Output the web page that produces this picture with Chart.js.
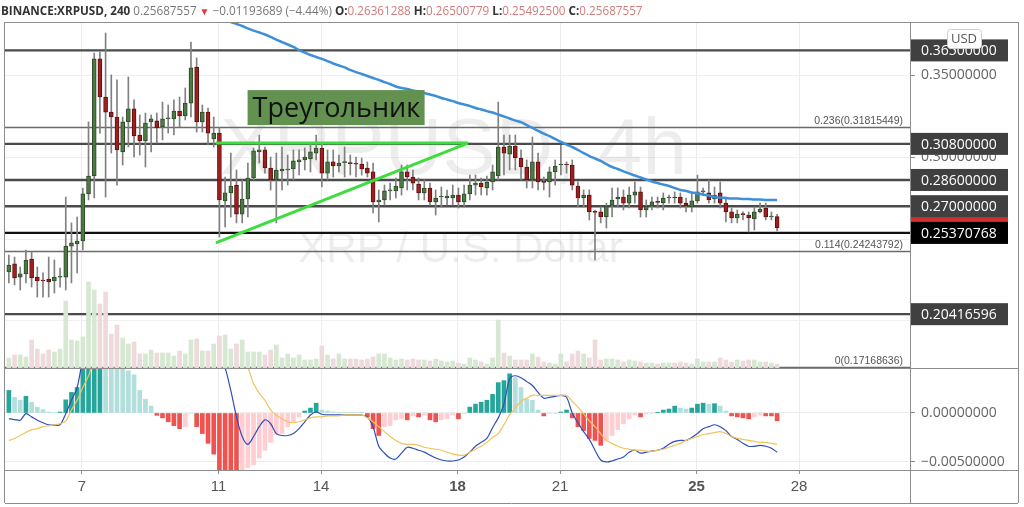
<!DOCTYPE html>
<html lang="ru">
<head>
<meta charset="UTF-8">
<title>XRPUSD 4h</title>
<script src="https://cdn.jsdelivr.net/npm/chart.js@4"></script>
<style>
  html, body { margin: 0; padding: 0; background: #fff; }
  #wrap { position: relative; width: 1024px; height: 507px; }
  #legend { position: absolute; left: 1px; top: 2px; font: 11.7px 'Open Sans', sans-serif; color: #777; white-space: nowrap; }
  #legend b { color: #333; font-weight: 700; }
  #legend .v { color: #d27b7b; }
  #legend .dn { color: #e53935; font-size: 10px; }
</style>
</head>
<body>
<div id="wrap">
  <canvas id="chart" width="1024" height="507"></canvas>
  <div id="legend"><b>BINANCE:XRPUSD, 240</b> 0.25687557 <span class="dn">▼</span> −0.01193689 (−4.44%) <b>O:</b><span class="v">0.26361288</span> <b>H:</b><span class="v">0.26500779</span> <b>L:</b><span class="v">0.25492500</span> <b>C:</b><span class="v">0.25687557</span></div>
</div>

<script>
// 4h candles
const open = [
  .2299,.2348,.2268,.2287,.2378,.2268,.2250,.2256,.2244,.2268,
  .2268,.2457,.2470,.2488,.2775,.2884,.3598,.3366,.3274,.3244,
  .3031,.3214,.3293,.3134,.3098,.3214,.3220,.3183,.3232,.3232,
  .3280,.3250,.3329,.3549,.3214,.3274,.3110,.3146,.2732,.2781,
  .2829,.2652,.2744,.2872,.3031,.3043,.2933,.2860,.2915,.2921,
  .2927,.2970,.2982,.2988,.3024,.3055,.2902,.2970,.2945,.2966,
  .2963,.2963,.2957,.2933,.2909,.2726,.2738,.2793,.2793,.2811,
  .2909,.2878,.2835,.2781,.2811,.2726,.2756,.2750,.2750,.2768,
  .2726,.2775,.2829,.2841,.2811,.2848,.2884,.3061,.3018,.3067,
  .2994,.2939,.2860,.2970,.2848,.2848,.2909,.2951,.2954,.2951,
  .2823,.2750,.2768,.2665,.2665,.2634,.2707,.2744,.2756,.2719,
  .2768,.2787,.2677,.2701,.2726,.2720,.2750,.2753,.2756,.2719,
  .2695,.2732,.2787,.2781,.2744,.2781,.2719,.2665,.2628,.2652,
  .2646,.2622,.2665,.2689,.2634,.2636
];
const high = [
  .2402,.2390,.2329,.2433,.2421,.2329,.2293,.2390,.2372,.2323,
  .2756,.2598,.2634,.2811,.3214,.3634,.3640,.3756,.3500,.3470,
  .3244,.3488,.3348,.3256,.3268,.3256,.3268,.3335,.3317,.3348,
  .3366,.3421,.3701,.3604,.3317,.3299,.3244,.3177,.2878,.3024,
  .2921,.2860,.2963,.3055,.3134,.3061,.3000,.3024,.3061,.3012,
  .3043,.3043,.3055,.3085,.3134,.3085,.3043,.3043,.3012,.3061,
  .3012,.3000,.2994,.2970,.2963,.2799,.2829,.2841,.2872,.2951,
  .2951,.2921,.2872,.2860,.2841,.2799,.2817,.2799,.2829,.2811,
  .2829,.2890,.2890,.2872,.2884,.2951,.3335,.3134,.3134,.3134,
  .3043,.2982,.3122,.3024,.2878,.2939,.2982,.3073,.2970,.2982,
  .2848,.2799,.2799,.2677,.2695,.2719,.2811,.2811,.2799,.2817,
  .2848,.2817,.2738,.2756,.2756,.2781,.2768,.2787,.2781,.2750,
  .2781,.2890,.2811,.2860,.2817,.2848,.2756,.2689,.2677,.2665,
  .2665,.2695,.2719,.2719,.2665,.2650
];
const low = [
  .2232,.2220,.2189,.2232,.2207,.2146,.2146,.2146,.2171,.2207,
  .2189,.2232,.2293,.2433,.2738,.2750,.3146,.2756,.3024,.2829,
  .2951,.3061,.3000,.3012,.2939,.3031,.3085,.3104,.3146,.3134,
  .3183,.3226,.3244,.3152,.3152,.3073,.3061,.2512,.2573,.2634,
  .2598,.2598,.2634,.2860,.2963,.2902,.2799,.2598,.2799,.2829,
  .2860,.2890,.2921,.2909,.2982,.2817,.2860,.2878,.2909,.2878,
  .2890,.2878,.2890,.2878,.2659,.2604,.2707,.2738,.2750,.2768,
  .2799,.2799,.2738,.2738,.2707,.2646,.2695,.2707,.2707,.2689,
  .2695,.2738,.2768,.2768,.2768,.2799,.2860,.2890,.2921,.2921,
  .2860,.2811,.2811,.2799,.2799,.2756,.2829,.2890,.2902,.2799,
  .2695,.2695,.2616,.2372,.2598,.2567,.2634,.2695,.2677,.2689,
  .2719,.2634,.2634,.2677,.2689,.2677,.2719,.2719,.2689,.2665,
  .2665,.2719,.2768,.2719,.2719,.2689,.2604,.2598,.2598,.2616,
  .2543,.2555,.2659,.2616,.2616,.2549
];
const close = [
  .2341,.2262,.2287,.2372,.2262,.2244,.2244,.2238,.2268,.2274,
  .2457,.2476,.2488,.2775,.2884,.3598,.3366,.3274,.3244,.3043,
  .3214,.3293,.3128,.3098,.3207,.3232,.3177,.3232,.3238,.3280,
  .3250,.3329,.3543,.3214,.3274,.3146,.3146,.2738,.2781,.2823,
  .2652,.2744,.2872,.3037,.3043,.2933,.2860,.2921,.2927,.2927,
  .2976,.2982,.3000,.3031,.3055,.2902,.2970,.2945,.2963,.2970,
  .2960,.2957,.2927,.2902,.2726,.2738,.2793,.2796,.2823,.2909,
  .2878,.2841,.2781,.2811,.2726,.2750,.2760,.2762,.2768,.2726,
  .2775,.2829,.2841,.2817,.2847,.2909,.3061,.3024,.3067,.2994,
  .2939,.2860,.2970,.2848,.2845,.2909,.2945,.2954,.2951,.2829,
  .2750,.2768,.2665,.2662,.2634,.2701,.2738,.2756,.2719,.2768,
  .2787,.2677,.2701,.2726,.2723,.2750,.2753,.2750,.2719,.2701,
  .2732,.2787,.2790,.2738,.2768,.2719,.2665,.2628,.2652,.2649,
  .2628,.2665,.2683,.2634,.2636,.2569
];
// relative volume
const volume = [
  10,13,13,11,28,19,14,18,16,19,
  67,28,27,31,86,78,64,76,34,43,
  30,24,26,14,14,18,15,15,15,12,
  17,14,28,29,17,17,24,32,33,19,
  24,28,16,16,16,13,18,23,10,14,
  10,13,8,8,9,22,13,9,14,9,
  9,9,8,9,11,14,14,10,8,9,
  8,9,8,8,7,9,7,6,7,5,
  4,10,8,6,4,10,48,15,12,8,
  8,8,14,11,6,5,4,14,6,14,
  17,14,10,28,8,9,9,8,6,8,
  7,6,5,5,4,5,5,5,6,5,
  4,9,6,6,6,10,8,6,8,7,
  8,8,6,6,5,4
];
// moving average (blue), starts above the visible range
const movingAvg = [
  null,null,null,null,null,null,null,null,null,null,
  null,null,null,null,null,null,null,null,null,null,
  null,null,null,null,null,null,null,null,null,null,
  null,null,null,null,null,null,.3872,.3854,.3838,.3823,
  .3811,.3799,.3784,.3771,.3759,.3747,.3732,.3716,.3701,.3686,
  .3671,.3652,.3637,.3622,.3610,.3598,.3585,.3570,.3558,.3546,
  .3531,.3518,.3506,.3494,.3482,.3470,.3457,.3445,.3430,.3421,
  .3415,.3406,.3400,.3390,.3381,.3372,.3360,.3351,.3341,.3329,
  .3320,.3311,.3299,.3290,.3280,.3271,.3259,.3247,.3235,.3222,
  .3213,.3195,.3177,.3159,.3143,.3128,.3110,.3092,.3076,.3061,
  .3043,.3024,.3006,.2991,.2976,.2957,.2939,.2927,.2912,.2900,
  .2887,.2875,.2863,.2851,.2841,.2832,.2823,.2811,.2799,.2793,
  .2784,.2778,.2771,.2765,.2756,.2753,.2750,.2747,.2747,.2744,
  .2744,.2741,.2741,.2738,.2738,.2738
];
// MACD pane
const macdHist = [
  .0023,.0016,.0013,.0017,.0011,.0006,.00034,.0001,.00005,.0001,
  .00134,.0021,.0026,.0052,.0058,.0066,.0070,.0065,.0058,.0052,
  .0048,.0043,.0039,.0023,.0014,.0007,-.00024,-.0005,-.0009,-.0013,
  -.0016,-.0014,-.00005,-.0014,-.0021,-.0031,-.0042,-.0062,-.0072,-.0080,
  -.0085,-.0075,-.0056,-.0053,-.0046,-.0038,-.0030,-.0022,-.0021,-.0014,
  -.0009,-.0004,.0002,.0005,.0010,.0003,.0002,.0001,.00007,.00005,
  .00004,.00003,.00002,-.0004,-.0016,-.0023,-.0014,-.0013,-.0007,-.0006,
  -.0007,-.0003,-.0004,-.0002,-.0007,-.0009,-.0007,-.0006,-.0002,-.0006,
  -.00003,.0006,.0009,.0011,.0013,.0019,.0031,.0033,.0040,.0036,
  .0026,.0014,.0013,.0003,-.0003,-.00005,-.00003,.0001,.0003,-.0005,
  -.0014,-.0018,-.0026,-.0028,-.0033,-.0028,-.0023,-.0017,-.0011,-.0006,
  -.0002,-.0004,-.0001,-.00003,.00002,.0003,.0004,.0007,.0005,.0004,
  .0005,.0009,.0010,.0009,.00095,.0007,.0002,-.0003,-.0004,-.0005,
  -.0006,-.0004,-.0002,-.0003,-.0003,-.0008
];
const macdLine = [
  -.00057,-.00067,-.00074,-.00007,-.0004,-.00074,-.0010,-.0012,-.00124,-.0012,
  -.00007,.0013,.0026,.0056,.0080,.0125,.0150,.0160,.0158,.0152,
  .0150,.0150,.0146,.0140,.0137,.0134,.0125,.0118,.0110,.0102,
  .0096,.0094,.0104,.0090,.0085,.0075,.0062,.0058,.0046,.0023,
  -.0004,-.0024,-.0032,-.0024,-.0014,-.0007,-.0011,-.0021,-.0023,-.0023,
  -.0021,-.0016,-.0009,-.0002,.0001,-.00013,-.0002,-.0002,-.0002,-.0002,
  -.0002,-.0002,-.0002,-.0004,-.0014,-.0034,-.0041,-.0046,-.0047,-.0041,
  -.0035,-.0036,-.0038,-.0040,-.0043,-.0046,-.0048,-.0049,-.0049,-.0048,
  -.0045,-.0040,-.0034,-.0030,-.0026,-.0015,-.0005,.0009,.0035,.0038,
  .0036,.0032,.0028,.0021,.0015,.0016,.0017,.0018,.0016,.0000,
  -.0010,-.0019,-.0027,-.0038,-.0048,-.0050,-.0049,-.0047,-.0045,-.0040,
  -.0038,-.0041,-.0040,-.0039,-.0038,-.0036,-.0032,-.0029,-.0028,-.0028,
  -.0025,-.0021,-.0016,-.0014,-.0012,-.0014,-.0018,-.0024,-.0027,-.0031,
  -.0034,-.0034,-.0033,-.0034,-.0036,-.0040
];
const signalLine = [
  -.0028,-.0026,-.0023,-.0020,-.0017,-.0016,-.0014,-.0013,-.0012,-.0011,
  -.0008,.0003,.0013,.0026,.0038,.0055,.0075,.0092,.0106,.0116,
  .0122,.0127,.0130,.0131,.0130,.0129,.0127,.0124,.0120,.0116,
  .0112,.0108,.0104,.0100,.0095,.0090,.0084,.0078,.0072,.0066,
  .0058,.0052,.0046,.0030,.0020,.0013,.0003,-.0002,-.0006,-.0009,
  -.0010,-.0009,-.0007,-.0005,-.0004,-.0004,-.0003,-.0003,-.0003,-.0002,
  -.0002,-.0002,-.0002,-.0005,-.0009,-.0014,-.0019,-.0024,-.0028,-.0031,
  -.0032,-.0032,-.0033,-.0035,-.0036,-.0037,-.0038,-.0040,-.0042,-.0043,
  -.0043,-.0040,-.0037,-.0034,-.0030,-.0025,-.0021,-.0012,-.0002,.0005,
  .0012,.0015,.0018,.0018,.0018,.0018,.0018,.0018,.0018,.0012,
  .0006,-.0001,-.0008,-.0014,-.0021,-.0028,-.0031,-.0034,-.0036,-.0037,
  -.0038,-.0038,-.0039,-.0039,-.0038,-.0037,-.0035,-.0033,-.0031,-.0028,
  -.0026,-.0024,-.0022,-.0021,-.0020,-.0019,-.0021,-.0024,-.0026,-.0027,
  -.0028,-.0029,-.0030,-.0030,-.0031,-.0032
];

const dayTicks = [7, 11, 14, 18, 21, 25, 28];
const boldDays = [18, 25];
const priceLevels = [0.365, 0.308, 0.286, 0.27, 0.25370768, 0.20416596];
const fibLevels = [
  { ratio: '0.236', price: 0.31815449 },
  { ratio: '0.114', price: 0.24243792 },
  { ratio: '0', price: 0.17168636 }
];
const triangleTop = [{ x: 10.92, y: 0.3085 }, { x: 18.30, y: 0.3085 }];
const triangleBottom = [{ x: 10.92, y: 0.2476 }, { x: 18.30, y: 0.3085 }];
const triangleLabel = { text: 'Треугольник', x: 11.85, y: 0.3408 };

const firstBarDay = 4.858;   // day of month of the first 4h bar
const barDays = 4 / 24;
const barX = open.map((_, i) => firstBarDay + i * barDays);
const isUp = open.map((o, i) => close[i] >= o);
const lastPrice = close[close.length - 1];

const GREEN = '#4d7a44', GREEN_EDGE = '#2c4a27';
const RED = '#a21e1e', RED_EDGE = '#5c1010';

const histColors = macdHist.map((h, i) => {
  const prev = i > 0 ? macdHist[i - 1] : h;
  if (h >= 0) return h >= prev ? '#26a69a' : '#b2dfdb';
  return h <= prev ? '#ef5350' : '#ffcdd2';
});

function fmt(v) {
  if (Math.abs(v) < 1e-12) v = 0;
  return v < 0 ? '−' + Math.abs(v).toFixed(8) : v.toFixed(8);
}

// keep each dataset inside its own pane
const paneClip = {
  id: 'paneClip',
  beforeDatasetDraw(chart, args) {
    const ds = chart.data.datasets[args.index];
    const s = chart.scales[ds.yAxisID === 'ym' ? 'ym' : 'y'];
    const a = chart.chartArea;
    chart.ctx.save();
    chart.ctx.beginPath();
    chart.ctx.rect(a.left, s.top, a.right - a.left, s.bottom - s.top);
    chart.ctx.clip();
  },
  afterDatasetDraw(chart) {
    chart.ctx.restore();
  }
};

const decor = {
  id: 'decor',
  beforeDatasetsDraw(chart) {
    const { ctx, chartArea: a, scales } = chart;
    const y = scales.y;
    ctx.save();
    // watermark
    const cx = (a.left + a.right) / 2;
    const cy = (y.top + y.bottom) / 2;
    ctx.fillStyle = 'rgba(0,0,0,0.07)';
    ctx.textAlign = 'center';
    ctx.textBaseline = 'alphabetic';
    ctx.font = '80px "Liberation Sans", Arial, sans-serif';
    ctx.fillText('XRPUSD, 4h', cx - 4, cy - 21);
    ctx.font = '42px "Liberation Sans", Arial, sans-serif';
    ctx.fillText('XRP / U.S. Dollar', cx + 3, cy + 67);

    // fib lines
    fibLevels.forEach(f => {
      const py = Math.round(y.getPixelForValue(f.price)) + 0.5;
      ctx.strokeStyle = '#6a6a6a';
      ctx.lineWidth = 1.5;
      ctx.beginPath();
      ctx.moveTo(a.left, py);
      ctx.lineTo(a.right, py);
      ctx.stroke();
    });
    // horizontal levels
    priceLevels.forEach((p, k) => {
      const py = y.getPixelForValue(p);
      ctx.strokeStyle = k === 4 ? '#111' : '#4a4a4a';
      ctx.lineWidth = 2.4;
      ctx.beginPath();
      ctx.moveTo(a.left, py);
      ctx.lineTo(a.right + 5, py);
      ctx.stroke();
    });
    ctx.restore();
  },
  afterDatasetsDraw(chart) {
    const { ctx, scales } = chart;
    const bx = scales.x.getPixelForValue(triangleLabel.x);
    const by = scales.y.getPixelForValue(triangleLabel.y);
    ctx.save();
    ctx.fillStyle = '#629150';
    ctx.fillRect(bx, by, 177, 35);
    ctx.fillStyle = '#111';
    ctx.font = '27px "Open Sans", sans-serif';
    ctx.textBaseline = 'alphabetic';
    ctx.fillText(triangleLabel.text, bx + 5, by + 27);
    ctx.restore();
  },
  afterDraw(chart) {
    const { ctx, chartArea: a, scales } = chart;
    const y = scales.y, ym = scales.ym;
    const H = chart.height;
    const R = y.right;
    ctx.save();

    // fib labels
    ctx.fillStyle = '#555';
    ctx.font = '10.5px "Liberation Sans", Arial, sans-serif';
    ctx.textAlign = 'right';
    ctx.textBaseline = 'alphabetic';
    fibLevels.forEach(f => {
      const py = y.getPixelForValue(f.price);
      ctx.fillText(f.ratio + '(' + f.price.toFixed(8) + ')', a.right - 7, py - 3);
    });

    // frame
    ctx.strokeStyle = '#8c8c8c';
    ctx.lineWidth = 1;
    ctx.beginPath();
    const hl = (yy) => { ctx.moveTo(a.left, Math.round(yy) + 0.5); ctx.lineTo(R, Math.round(yy) + 0.5); };
    hl(a.top); hl(ym.top); hl(a.bottom); hl(H - 4);
    const vl = (xx) => { ctx.moveTo(Math.round(xx) + 0.5, a.top); ctx.lineTo(Math.round(xx) + 0.5, H - 4); };
    vl(a.left - 1); vl(a.right); vl(R);
    ctx.stroke();

    // price labels on the axis
    const box = (p, bg) => {
      const py = y.getPixelForValue(p);
      ctx.fillStyle = bg;
      ctx.fillRect(a.right + 1, py - 11, 97, 22);
      ctx.fillStyle = '#fff';
      ctx.font = '14px "Open Sans", sans-serif';
      ctx.textAlign = 'left';
      ctx.textBaseline = 'middle';
      ctx.fillText(p.toFixed(8), a.right + 11, py + 1);
    };
    box(lastPrice, '#d32f2f');
    priceLevels.forEach((p, k) => box(p, k === 4 ? '#000' : '#404040'));

    // currency badge
    const ux = (a.right + R) / 2 - 17, uy = a.top + 7;
    ctx.fillStyle = '#fff';
    ctx.strokeStyle = '#d0d0d0';
    ctx.beginPath();
    ctx.roundRect(ux + 0.5, uy + 0.5, 34, 19, 3);
    ctx.fill();
    ctx.stroke();
    ctx.fillStyle = '#555';
    ctx.font = '13px "Open Sans", sans-serif';
    ctx.textAlign = 'center';
    ctx.textBaseline = 'middle';
    ctx.fillText('USD', ux + 17, uy + 10);
    ctx.restore();
  }
};

const pt = (arr) => arr.map((v, i) => ({ x: barX[i], y: v }));

new Chart(document.getElementById('chart'), {
  type: 'bar',
  data: {
    datasets: [
      {
        label: 'Volume', yAxisID: 'yv', order: 20,
        data: pt(volume), barThickness: 4, grouped: false,
        backgroundColor: isUp.map(u => u ? '#d6e8d2' : '#efdadb')
      },
      {
        label: 'Wicks', yAxisID: 'y', order: 8,
        data: barX.map((x, i) => ({ x, y: [low[i], high[i]] })),
        barThickness: 1, grouped: false, backgroundColor: '#808080'
      },
      {
        label: 'XRPUSD', yAxisID: 'y', order: 7,
        data: barX.map((x, i) => ({ x, y: [open[i], close[i]] })),
        barThickness: 4, grouped: false, minBarLength: 1,
        backgroundColor: isUp.map(u => u ? GREEN : RED),
        borderColor: isUp.map(u => u ? GREEN_EDGE : RED_EDGE),
        borderWidth: 1, borderSkipped: false
      },
      {
        type: 'line', label: 'MA', yAxisID: 'y', order: 5,
        data: pt(movingAvg), borderColor: '#3f8fd8', borderWidth: 2.5,
        pointRadius: 0, tension: 0.3
      },
      {
        type: 'line', label: 'Triangle top', yAxisID: 'y', order: 4,
        data: triangleTop, borderColor: '#3fdc3f', borderWidth: 3, pointRadius: 0
      },
      {
        type: 'line', label: 'Triangle bottom', yAxisID: 'y', order: 4,
        data: triangleBottom, borderColor: '#3fdc3f', borderWidth: 3, pointRadius: 0
      },
      {
        label: 'Histogram', yAxisID: 'ym', order: 20,
        data: pt(macdHist), barThickness: 4, grouped: false,
        backgroundColor: histColors
      },
      {
        type: 'line', label: 'MACD', yAxisID: 'ym', order: 2,
        data: pt(macdLine), borderColor: '#2f4fb8', borderWidth: 1.2,
        pointRadius: 0, tension: 0.3
      },
      {
        type: 'line', label: 'Signal', yAxisID: 'ym', order: 1,
        data: pt(signalLine), borderColor: '#f2c25c', borderWidth: 1.2,
        pointRadius: 0, tension: 0.3
      }
    ]
  },
  options: {
    responsive: false,
    animation: false,
    devicePixelRatio: 1,
    layout: { padding: { left: 5, top: 22, right: 6, bottom: 4 } },
    plugins: { legend: { display: false }, tooltip: { enabled: false } },
    scales: {
      x: {
        type: 'linear', min: 4.745, max: 31.25, offset: false,
        afterBuildTicks: s => { s.ticks = dayTicks.map(v => ({ value: v })); },
        afterFit: s => { s.height = 33; },
        ticks: {
          autoSkip: false, maxRotation: 0, padding: 4, color: '#555',
          callback: v => String(v),
          font: c => ({
            family: '"Liberation Sans Narrow", "Liberation Sans", Arial, sans-serif',
            size: 15,
            weight: c.tick && boldDays.includes(c.tick.value) ? 'bold' : 'normal'
          })
        },
        grid: { offset: false, color: '#ececec', tickColor: '#8c8c8c', tickLength: 4 },
        border: { display: false }
      },
      y: {
        type: 'linear', position: 'right', stack: 'panes', stackWeight: 346,
        min: 0.17134, max: 0.38232,
        afterFit: s => { s.width = 108; },
        ticks: {
          stepSize: 0.05, includeBounds: false, padding: 6, color: '#666',
          font: { family: '"Open Sans", sans-serif', size: 14 },
          callback: v => fmt(v)
        },
        grid: { color: '#f0f0f0', tickColor: '#8c8c8c', tickLength: 5 },
        border: { display: false }
      },
      ym: {
        type: 'linear', position: 'right', stack: 'panes', stackWeight: 102,
        min: -0.00582, max: 0.00459,
        afterFit: s => { s.width = 108; },
        ticks: {
          stepSize: 0.005, includeBounds: false, padding: 6, color: '#666',
          font: { family: '"Open Sans", sans-serif', size: 14 },
          callback: v => fmt(v)
        },
        grid: { color: '#ececec', tickColor: '#8c8c8c', tickLength: 5 },
        border: { display: false }
      },
      yv: { type: 'linear', display: false, min: -102, max: 346 }
    }
  },
  plugins: [paneClip, decor]
});
</script>
</body>
</html>
